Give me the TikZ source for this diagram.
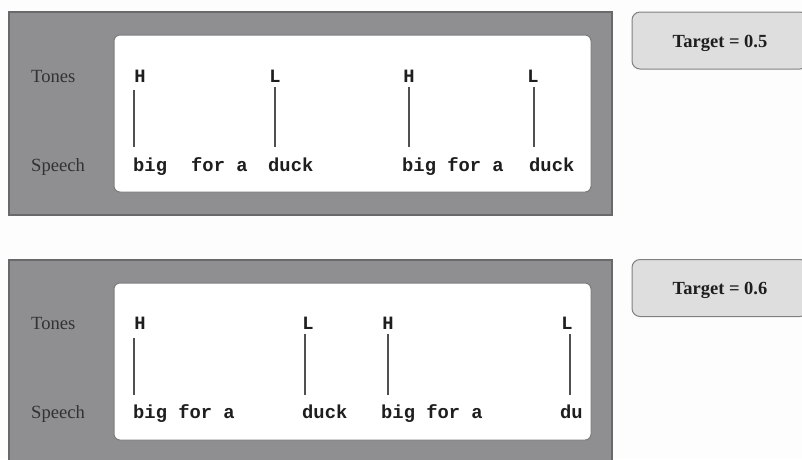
\documentclass[tikz,border=0pt]{standalone}
\usepackage{fontspec}
\setmainfont{Liberation Serif}
\newfontfamily\monof{Liberation Mono}
\definecolor{bgc}{RGB}{253,253,253}
\definecolor{panelgray}{RGB}{143,143,146}
\definecolor{paneledge}{RGB}{105,105,107}
\definecolor{inneredge}{RGB}{125,125,127}
\definecolor{targetfill}{RGB}{222,222,223}
\definecolor{targetedge}{RGB}{128,128,130}
\definecolor{textgray}{RGB}{50,50,50}
\definecolor{inkc}{RGB}{30,30,30}
\definecolor{linegray}{RGB}{80,80,80}
\begin{document}
\begin{tikzpicture}[x=1pt,y=-1pt,
  panel/.style={fill=panelgray,draw=paneledge,line width=1.5pt},
  innerbox/.style={fill=white,draw=inneredge,line width=1pt,rounded corners=6pt},
  targetbox/.style={fill=targetfill,draw=targetedge,line width=1pt,rounded corners=8pt,
    minimum width=176pt,minimum height=57pt,inner sep=0pt,text height=13pt,text depth=0pt,
    font=\bfseries\fontsize{18.5}{20}\selectfont,text=inkc},
  lbl/.style={font=\fontsize{18.6}{20}\selectfont,text=textgray,inner sep=0pt,anchor=base west},
  tone/.style={font=\monof\bfseries\fontsize{18.8}{20}\selectfont,text=inkc,inner sep=0pt,anchor=base},
  word/.style={font=\monof\bfseries\fontsize{18.8}{20}\selectfont,text=inkc,inner sep=0pt,anchor=base west},
  assoc/.style={draw=linegray,line width=1.3pt}]
\useasboundingbox (0,0) rectangle (802,459);
\fill[bgc] (0,0) rectangle (802,459);
% ---------- top panel ----------
\draw[panel] (9,12) rectangle (612,215);
\draw[innerbox] (114,35) rectangle (591,192);
\node[targetbox] (tg1) at (720,40.5) {Target = 0.5};
\node[lbl] (tn1) at (31,82) {Tones};
\node[lbl] (sp1) at (31,171) {Speech};
\node[tone] (h11) at (140,82) {H};
\node[tone] (l11) at (275,82) {L};
\node[tone] (h12) at (409,82) {H};
\node[tone] (l12) at (533,82) {L};
\node[word] (w11) at (133,171) {big};
\node[word] (w12) at (191,171) {for a};
\node[word] (w13) at (268,171) {duck};
\node[word] (w14) at (402,171) {big for a};
\node[word] (w15) at (529,171) {duck};
\coordinate (a1) at (134,90);  \coordinate (b1) at (134,147);
\coordinate (a2) at (275,87);  \coordinate (b2) at (275,147);
\coordinate (a3) at (409,87);  \coordinate (b3) at (409,147);
\coordinate (a4) at (534,87);  \coordinate (b4) at (534,147);
\draw[assoc] (a1) -- (b1);
\draw[assoc] (a2) -- (b2);
\draw[assoc] (a3) -- (b3);
\draw[assoc] (a4) -- (b4);
% ---------- bottom panel ----------
\draw[panel] (9,260) rectangle (612,475);
\draw[innerbox] (114,283) rectangle (591,440);
\node[targetbox] (tg2) at (720,288) {Target = 0.6};
\node[lbl] (tn2) at (31,329) {Tones};
\node[lbl] (sp2) at (31,418) {Speech};
\node[tone] (h21) at (140,329) {H};
\node[tone] (l21) at (308,329) {L};
\node[tone] (h22) at (388,329) {H};
\node[tone] (l22) at (567,329) {L};
\node[word] (w21) at (133,418) {big for a};
\node[word] (w22) at (302,418) {duck};
\node[word] (w23) at (381,418) {big for a};
\node[word] (w24) at (560,418) {du};
\coordinate (c1) at (134,338); \coordinate (d1) at (134,395);
\coordinate (c2) at (305,334); \coordinate (d2) at (305,395);
\coordinate (c3) at (388,334); \coordinate (d3) at (388,395);
\coordinate (c4) at (570,334); \coordinate (d4) at (570,395);
\draw[assoc] (c1) -- (d1);
\draw[assoc] (c2) -- (d2);
\draw[assoc] (c3) -- (d3);
\draw[assoc] (c4) -- (d4);
\end{tikzpicture}
\end{document}
